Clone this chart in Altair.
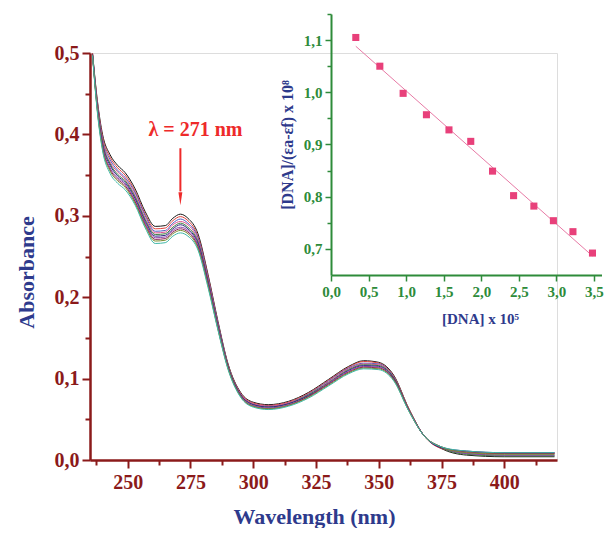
import altair as alt
import pandas as pd

# ---------------- main spectra data ----------------
wavelengths = [236, 238, 240, 243, 246, 249, 253, 257, 261, 265, 268, 271, 274, 278, 282,
               286, 290, 295, 300, 306, 314, 322, 330, 338, 344, 350, 356, 362, 368, 375,
               385, 400, 420]

s01 = [.500, .440, .400, .375, .362, .353, .333, .305, .287, .288, .297, .302, .297, .278, .228,
       .170, .118, .083, .071, .068, .072, .083, .099, .115, .122, .120, .104, .063, .030, .014,
       .006, .004, .004]
s02 = [.500, .438, .397, .372, .359, .350, .330, .302, .284, .285, .294, .299, .294, .275, .226,
       .168, .117, .082, .070, .067, .071, .082, .098, .114, .121, .119, .103, .063, .030, .014,
       .009, .008, .008]
s03 = [.499, .436, .394, .369, .356, .347, .328, .300, .281, .282, .291, .296, .291, .273, .224,
       .167, .116, .081, .069, .066, .070, .081, .097, .113, .119, .118, .102, .062, .030, .015,
       .008, .006, .006]
s04 = [.499, .434, .392, .366, .354, .345, .325, .297, .279, .280, .289, .293, .289, .270, .222,
       .166, .115, .081, .069, .066, .070, .080, .096, .112, .118, .117, .101, .062, .030, .015,
       .010, .009, .009]
s05 = [.499, .433, .390, .364, .351, .343, .323, .295, .277, .278, .286, .291, .286, .268, .220,
       .165, .115, .080, .068, .065, .069, .080, .095, .111, .117, .116, .101, .062, .030, .015,
       .007, .005, .005]
s06 = [.498, .431, .388, .362, .349, .341, .321, .293, .275, .276, .284, .289, .284, .266, .219,
       .164, .114, .080, .068, .065, .069, .079, .094, .110, .116, .115, .100, .061, .030, .015,
       .011, .009, .009]
s07 = [.498, .430, .386, .359, .347, .339, .319, .291, .273, .274, .282, .286, .282, .264, .217,
       .163, .113, .079, .067, .064, .068, .078, .094, .109, .115, .114, .099, .061, .030, .016,
       .008, .006, .006]
s08 = [.498, .428, .384, .357, .345, .337, .317, .289, .271, .272, .280, .284, .280, .262, .216,
       .161, .113, .078, .066, .063, .067, .078, .093, .108, .114, .113, .099, .061, .030, .016,
       .010, .008, .008]
s09 = [.497, .427, .382, .355, .343, .335, .315, .287, .269, .270, .278, .282, .278, .260, .214,
       .160, .112, .078, .066, .063, .067, .077, .092, .107, .113, .112, .098, .060, .030, .016,
       .009, .007, .007]
s10 = [.497, .425, .380, .352, .340, .332, .313, .285, .266, .267, .275, .279, .275, .258, .212,
       .159, .111, .077, .065, .062, .066, .076, .091, .106, .112, .111, .097, .060, .030, .016,
       .011, .009, .009]

series_names = ["s01", "s02", "s03", "s04", "s05", "s06", "s07", "s08", "s09", "s10"]
series_values = [s01, s02, s03, s04, s05, s06, s07, s08, s09, s10]
series_colors = ["#1a1a1a", "#e0403a", "#4f5fc2", "#e0508f", "#3f7f3f",
                 "#2a2a80", "#8e44ad", "#8b2252", "#7a8a30", "#3fb8a8"]

# axis tick values
x_major = [250, 275, 300, 325, 350, 375, 400]
x_minor = [237.5, 262.5, 287.5, 312.5, 337.5, 362.5, 387.5, 412.5]
y_major = [0.0, 0.1, 0.2, 0.3, 0.4, 0.5]
y_minor = [0.05, 0.15, 0.25, 0.35, 0.45]

# ---------------- inset data ----------------
dna_conc = [0.33, 0.65, 0.96, 1.27, 1.57, 1.86, 2.15, 2.43, 2.70, 2.96, 3.22, 3.48]
dna_ratio = [1.105, 1.050, 0.998, 0.957, 0.928, 0.906, 0.849, 0.802, 0.782, 0.754, 0.733, 0.692]
ix_vals = [0.0, 0.25, 0.5, 0.75, 1.0, 1.25, 1.5, 1.75, 2.0, 2.25, 2.5, 2.75, 3.0, 3.25, 3.5]
iy_vals = [0.7, 0.75, 0.8, 0.85, 0.9, 0.95, 1.0, 1.05, 1.1, 1.15]

# ---------------- annotation ----------------
arrow_wavelength = [271]
arrow_top = [0.383]
arrow_bottom = [0.330]
arrow_head = [0.321]
label_wavelength = [277]
label_absorbance = [0.405]
label_text = ["λ = 271 nm"]

# ---------------- styling ----------------
SERIF = "Liberation Serif"
MAROON = "#8b1a1a"
BLUE = "#2e3a8c"
GREEN = "#2e8b3a"
RED = "#ee2a2a"
PINK = "#e8407a"

rows = []
for name, vals in zip(series_names, series_values):
    for w, a in zip(wavelengths, vals):
        rows.append({"wavelength": w, "absorbance": a, "series": name})
spec_df = pd.DataFrame(rows)

x_scale = alt.Scale(domain=[235, 421], nice=False, zero=False)
y_scale = alt.Scale(domain=[0, 0.5], nice=False)

x_main = alt.X("wavelength:Q", scale=x_scale,
               axis=alt.Axis(orient="bottom", title="Wavelength (nm)", values=x_major, grid=False,
                             format="d", tickSize=8,
                             tickWidth=2, tickColor=MAROON, domainColor=MAROON, domainWidth=2.5,
                             labelColor=MAROON, labelFont=SERIF, labelFontSize=20, labelFontWeight="bold",
                             labelPadding=4, labelFlush=False, labelOverlap=False,
                             titleColor=BLUE, titleFont=SERIF, titleFontSize=22, titleFontWeight="bold",
                             titlePadding=14, titleX=224))
y_main = alt.Y("absorbance:Q", scale=y_scale,
               axis=alt.Axis(orient="left", title="Absorbance", values=y_major, grid=False,
                             labelExpr="replace(format(datum.value, '.1f'), '.', ',')", tickSize=8,
                             tickWidth=2, tickColor=MAROON, domainColor=MAROON, domainWidth=2.5,
                             labelColor=MAROON, labelFont=SERIF, labelFontSize=20, labelFontWeight="bold",
                             labelPadding=3, labelFlush=False, labelOverlap=False,
                             titleColor=BLUE, titleFont=SERIF, titleFontSize=22, titleFontWeight="bold",
                             titlePadding=16, titleY=219))

spectra = alt.Chart(spec_df).mark_line(strokeWidth=1, interpolate="monotone").encode(
    x=x_main, y=y_main,
    color=alt.Color("series:N", scale=alt.Scale(domain=series_names, range=series_colors), legend=None),
    detail="series:N",
)

# minor ticks: an invisible layer carrying a second (label-less) axis on the same scales
minor = alt.Chart(spec_df).mark_point(opacity=0).encode(
    x=alt.X("wavelength:Q", scale=x_scale,
            axis=alt.Axis(orient="bottom", values=x_minor, labels=False, domain=False, grid=False,
                          tickSize=5, tickWidth=2, tickColor=MAROON, title=None)),
    y=alt.Y("absorbance:Q", scale=y_scale,
            axis=alt.Axis(orient="left", values=y_minor, labels=False, domain=False, grid=False,
                          tickSize=5, tickWidth=2, tickColor=MAROON, title=None)),
)

arrow_df = pd.DataFrame({"wavelength": arrow_wavelength, "absorbance": arrow_top,
                         "absorbance2": arrow_bottom, "head": arrow_head})
arrow_line = alt.Chart(arrow_df).mark_rule(color=RED, strokeWidth=2).encode(
    x=alt.X("wavelength:Q", axis=None), y=alt.Y("absorbance:Q", axis=None), y2="absorbance2:Q")
arrow_tip = alt.Chart(arrow_df).mark_point(
    shape="M-0.3,-1L0.3,-1L0,1Z", filled=True, color=RED, size=170, opacity=1).encode(
    x=alt.X("wavelength:Q", axis=None), y=alt.Y("head:Q", axis=None))
label_df = pd.DataFrame({"wavelength": label_wavelength, "absorbance": label_absorbance, "text": label_text})
label = alt.Chart(label_df).mark_text(font=SERIF, fontSize=20, fontWeight="bold", color=RED,
                                      align="center", baseline="middle").encode(
    x=alt.X("wavelength:Q", axis=None), y=alt.Y("absorbance:Q", axis=None), text="text:N")

main = alt.layer(spectra, minor, arrow_line, arrow_tip, label).resolve_axis(x="independent", y="independent")

# ---------------- inset ----------------
inset_df = pd.DataFrame({"conc": dna_conc, "ratio": dna_ratio})
major_x = "abs(datum.value*2 - round(datum.value*2)) < 0.001"
major_y = "abs(datum.value*10 - round(datum.value*10)) < 0.001"

x_in = alt.X("conc:Q",
             scale=alt.Scale(domain=[0, 3.6], range=[241, 511.5], nice=False, zero=False),
             axis=alt.Axis(orient="bottom", offset=-185, title="[DNA] x 10⁵", values=ix_vals, grid=False,
                           labelExpr=major_x + " ? replace(format(datum.value, '.1f'), '.', ',') : ''",
                           tickSize={"condition": {"test": major_x, "value": 6}, "value": 4},
                           tickWidth=1.5, tickColor=GREEN, domainColor=GREEN, domainWidth=2,
                           labelColor=GREEN, labelFont=SERIF, labelFontSize=15, labelFontWeight="bold",
                           labelPadding=3, labelFlush=False, labelOverlap=False,
                           titleColor=BLUE, titleFont=SERIF, titleFontSize=15, titleFontWeight="bold",
                           titlePadding=12, titleX=390))
y_in = alt.Y("ratio:Q",
             scale=alt.Scale(domain=[0.65, 1.15], range=[222, -39], nice=False, zero=False),
             axis=alt.Axis(orient="left", offset=-241, title="[DNA]/(εa-εf) x 10⁸", values=iy_vals, grid=False,
                           labelExpr=major_y + " ? replace(format(datum.value, '.1f'), '.', ',') : ''",
                           tickSize={"condition": {"test": major_y, "value": 6}, "value": 4},
                           tickWidth=1.5, tickColor=GREEN, domainColor=GREEN, domainWidth=2,
                           labelColor=GREEN, labelFont=SERIF, labelFontSize=15, labelFontWeight="bold",
                           labelPadding=3, labelFlush=False, labelOverlap=False,
                           titleColor=BLUE, titleFont=SERIF, titleFontSize=16, titleFontWeight="bold",
                           titlePadding=8))

inset_points = alt.Chart(inset_df).mark_point(shape="square", filled=True, color=PINK, size=50, opacity=1).encode(
    x=x_in, y=y_in)
inset_fit = alt.Chart(inset_df).transform_regression("conc", "ratio").mark_line(
    color="#e77aa5", strokeWidth=1).encode(x="conc:Q", y="ratio:Q")
inset = alt.layer(inset_fit, inset_points)

chart = alt.layer(main, inset).resolve_scale(x="independent", y="independent").properties(
    width=467, height=407,
    padding={"left": 82, "top": 45, "right": 48, "bottom": 68},
    autosize=alt.AutoSizeParams(type="none"),
).configure_view(stroke=None).configure(background="white")

chart.save("out.html", embed_options={"renderer": "svg", "actions": False})
